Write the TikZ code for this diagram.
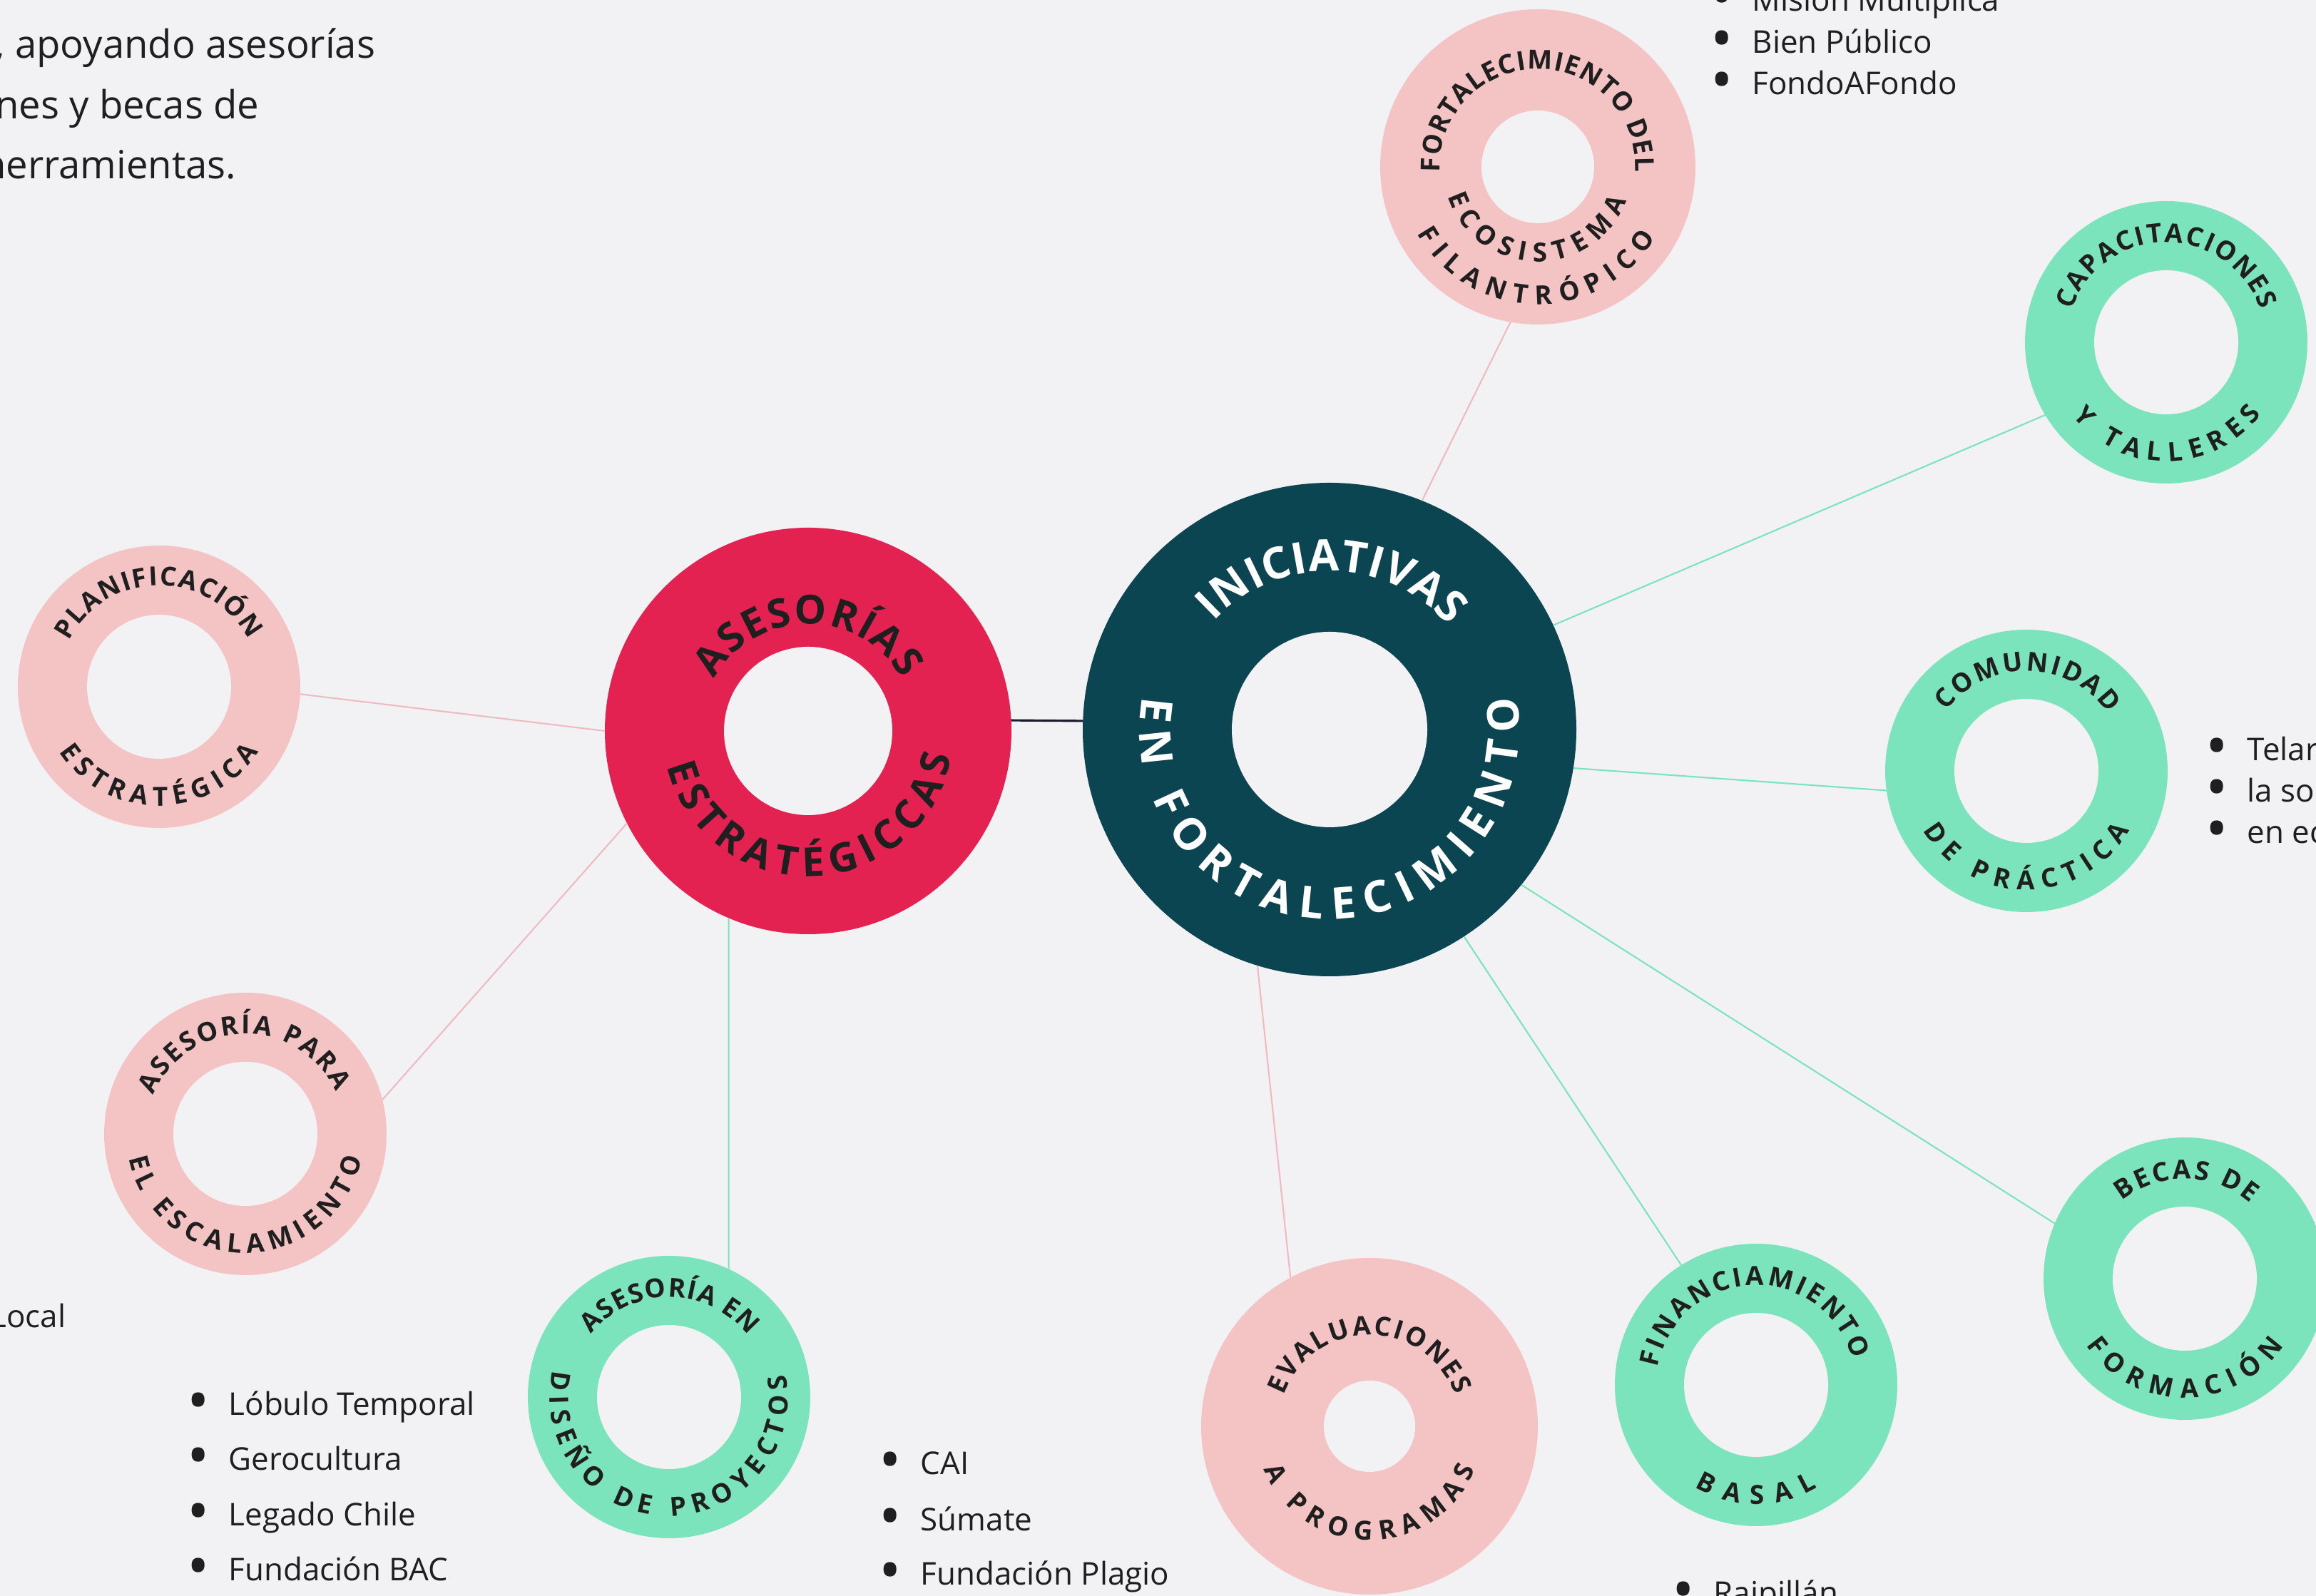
\documentclass[tikz,border=0pt]{standalone}
\usepackage{fontspec}
\usepackage{graphicx}
\setmainfont{Open Sans}
\usetikzlibrary{decorations.text}

\definecolor{fondo}{HTML}{F2F2F4}
\definecolor{petroleo}{HTML}{0B4552}
\definecolor{frambuesa}{HTML}{E32252}
\definecolor{rosa}{HTML}{F4C3C3}
\definecolor{rosalinea}{HTML}{F0BAC2}
\definecolor{menta}{HTML}{7CE4BD}
\definecolor{tinta}{HTML}{1F1F1F}
\definecolor{oscuro}{HTML}{1C1C30}

\newcommand\ringbig{\fontsize{17.5pt}{20pt}\selectfont\bfseries}
\newcommand\ringmid{\fontsize{16pt}{19pt}\selectfont\bfseries}
\newcommand\ringsmall{\fontsize{10.5pt}{12pt}\selectfont\bfseries}
\newcommand\listfont{\fontsize{12.5pt}{15pt}\selectfont}
\newcommand\parafont{\fontsize{15.5pt}{18pt}\selectfont}
\newcommand\bul{\llap{\raisebox{-0.09cm}{\scalebox{1.9}{•}}\hspace{0.27cm}}}

\begin{document}
\begin{tikzpicture}
  [ring/.style={circle, inner sep=0pt, outer sep=0pt, fill=#1},
   chico/.style={ring=#1, minimum size=3.96cm},
   hueco/.style={circle, inner sep=0pt, outer sep=0pt, fill=fondo, minimum size=#1},
   enlace/.style={draw=#1, line width=0.6pt},
   rotulo/.style 2 args={decorate, decoration={text along path, text align={fit to path}, text color=#1, text={#2}}},
   item/.style={anchor=base west, inner sep=0pt, text=tinta, font=\listfont},
   parrafo/.style={anchor=base east, inner sep=0pt, text=tinta, font=\parafont}]

  \path[use as bounding box, fill=fondo] (0,0) rectangle (32.47,22.38);

  % centro
  \node[ring=petroleo, minimum size=6.92cm] (inic) at (18.64,12.15) {};
  \node[hueco=2.74cm] at (inic) {};
  \node[ring=frambuesa, minimum size=5.70cm] (ases) at (11.33,12.13) {};
  \node[hueco=2.36cm] at (ases) {};

  % anillos chicos
  \node[chico=rosa] (plan) at (2.23,12.75) {};
  \node[hueco=2.02cm] at (plan) {};
  \node[chico=rosa] (escal) at (3.44,6.48) {};
  \node[hueco=2.02cm] at (escal) {};
  \node[chico=menta] (diseno) at (9.38,2.79) {};
  \node[hueco=2.02cm] at (diseno) {};
  \node[ring=rosa, minimum size=4.72cm] (eval) at (19.20,2.38) {};
  \node[hueco=1.28cm] at (eval) {};
  \node[chico=menta] (fin) at (24.62,2.96) {};
  \node[hueco=2.02cm] at (fin) {};
  \node[chico=menta] (becas) at (30.63,4.45) {};
  \node[hueco=2.02cm] at (becas) {};
  \node[chico=menta] (comun) at (28.41,11.57) {};
  \node[hueco=2.02cm] at (comun) {};
  \node[chico=menta] (capac) at (30.37,17.58) {};
  \node[hueco=2.02cm] at (capac) {};
  \node[ring=rosa, minimum size=4.42cm] (fort) at (21.56,20.04) {};
  \node[hueco=1.58cm] at (fort) {};

  % enlaces
  \draw[oscuro, line width=0.9pt] (ases.3) -- (inic.178);
  \draw[enlace=rosalinea] (plan.-3) -- (ases.180);
  \draw[enlace=rosalinea] (escal.14) -- (ases.207);
  \draw[enlace=menta] (diseno.65) -- (ases.247);
  \draw[enlace=rosalinea] (eval.118) -- (inic.253);
  \draw[enlace=menta] (fin.122) -- (inic.303);
  \draw[enlace=menta] (becas.157) -- (inic.321);
  \draw[enlace=menta] (comun.188) -- (inic.351);
  \draw[enlace=menta] (capac.211) -- (inic.25);
  \draw[enlace=rosalinea] (fort.260) -- (inic.68);

  % rotulos
  \path[rotulo={white}{|\ringbig|INICIATIVAS}] ([shift={(137:2.22)}]inic.center) arc[start angle=137, end angle=41, radius=2.22];
  \path[rotulo={white}{|\ringbig|EN FORTALECIMIENTO}] ([shift={(170:2.66)}]inic.center) arc[start angle=170, end angle=370, radius=2.66];
  \path[rotulo={tinta}{|\ringmid|ASESORÍAS}] ([shift={(151:1.50)}]ases.center) arc[start angle=151, end angle=29, radius=1.50];
  \path[rotulo={tinta}{|\ringmid|ESTRATÉGICCAS}] ([shift={(194:2.04)}]ases.center) arc[start angle=194, end angle=350, radius=2.04];
  \path[rotulo={tinta}{|\ringsmall|PLANIFICACIÓN}] ([shift={(153:1.42)}]plan.center) arc[start angle=153, end angle=28, radius=1.42];
  \path[rotulo={tinta}{|\ringsmall|ESTRATÉGICA}] ([shift={(213:1.67)}]plan.center) arc[start angle=213, end angle=327, radius=1.67];
  \path[rotulo={tinta}{|\ringsmall|ASESORÍA PARA}] ([shift={(157:1.40)}]escal.center) arc[start angle=157, end angle=25, radius=1.40];
  \path[rotulo={tinta}{|\ringsmall|EL ESCALAMIENTO}] ([shift={(192:1.67)}]escal.center) arc[start angle=192, end angle=348, radius=1.67];
  \path[rotulo={tinta}{|\ringsmall|ASESORÍA EN}] ([shift={(141:1.40)}]diseno.center) arc[start angle=141, end angle=38, radius=1.40];
  \path[rotulo={tinta}{|\ringsmall|DISEÑO DE PROYECTOS}] ([shift={(167:1.67)}]diseno.center) arc[start angle=167, end angle=371, radius=1.67];
  \path[rotulo={tinta}{|\ringsmall|EVALUACIONES}] ([shift={(160:1.28)}]eval.center) arc[start angle=160, end angle=20, radius=1.28];
  \path[rotulo={tinta}{|\ringsmall|A PROGRAMAS}] ([shift={(202:1.60)}]eval.center) arc[start angle=202, end angle=338, radius=1.60];
  \path[rotulo={tinta}{|\ringsmall|FINANCIAMIENTO}] ([shift={(170:1.40)}]fin.center) arc[start angle=170, end angle=15, radius=1.40];
  \path[rotulo={tinta}{|\ringsmall|BASAL}] ([shift={(239:1.67)}]fin.center) arc[start angle=239, end angle=301, radius=1.67];
  \path[rotulo={tinta}{|\ringsmall|BECAS DE}] ([shift={(129:1.40)}]becas.center) arc[start angle=129, end angle=49, radius=1.40];
  \path[rotulo={tinta}{|\ringsmall|FORMACIÓN}] ([shift={(214:1.67)}]becas.center) arc[start angle=214, end angle=326, radius=1.67];
  \path[rotulo={tinta}{|\ringsmall|COMUNIDAD}] ([shift={(143:1.40)}]comun.center) arc[start angle=143, end angle=35, radius=1.40];
  \path[rotulo={tinta}{|\ringsmall|DE PRÁCTICA}] ([shift={(210:1.67)}]comun.center) arc[start angle=210, end angle=330, radius=1.67];
  \path[rotulo={tinta}{|\ringsmall|CAPACITACIONES}] ([shift={(161:1.40)}]capac.center) arc[start angle=161, end angle=19, radius=1.40];
  \path[rotulo={tinta}{|\ringsmall|Y TALLERES}] ([shift={(218:1.67)}]capac.center) arc[start angle=218, end angle=323, radius=1.67];
  \path[rotulo={tinta}{|\ringsmall|FORTALECIMIENTO DEL}] ([shift={(183:1.37)}]fort.center) arc[start angle=183, end angle=-3, radius=1.37];
  \path[rotulo={tinta}{|\ringsmall|ECOSISTEMA}] ([shift={(198:1.33)}]fort.center) arc[start angle=198, end angle=339, radius=1.33];
  \path[rotulo={tinta}{|\ringsmall|FILANTRÓPICO}] ([shift={(209:1.93)}]fort.center) arc[start angle=209, end angle=329, radius=1.93];

  % textos sueltos
  \node[parrafo] (p1) at (5.27,21.56) {, apoyando asesorías};
  \node[parrafo] (p2) at (3.64,20.71) {nes y becas de};
  \node[parrafo] (p3) at (3.32,19.87) {herramientas.};
  \node[parrafo, font=\listfont] (loc) at (0.93,3.76) {Local};

  \node[item] (l1) at (3.20,2.53) {\bul Lóbulo Temporal};
  \node[item] (l2) at (3.20,1.76) {\bul Gerocultura};
  \node[item] (l3) at (3.20,0.98) {\bul Legado Chile};
  \node[item] (l4) at (3.20,0.21) {\bul Fundación BAC};

  \node[item] (c1) at (12.90,1.70) {\bul CAI};
  \node[item] (c2) at (12.90,0.91) {\bul Súmate};
  \node[item] (c3) at (12.90,0.15) {\bul Fundación Plagio};

  \node[item] (r1) at (24.02,-0.12) {\bul Raipillán};

  \node[item] (m1) at (24.56,22.22) {\bul Misión Multiplica};
  \node[item] (m2) at (24.56,21.63) {\bul Bien Público};
  \node[item] (m3) at (24.56,21.05) {\bul FondoAFondo};

  \node[item] (t1) at (31.50,11.71) {\bul Telar};
  \node[item] (t2) at (31.50,11.13) {\bul la so};
  \node[item] (t3) at (31.50,10.55) {\bul en ec};
\end{tikzpicture}
\end{document}
